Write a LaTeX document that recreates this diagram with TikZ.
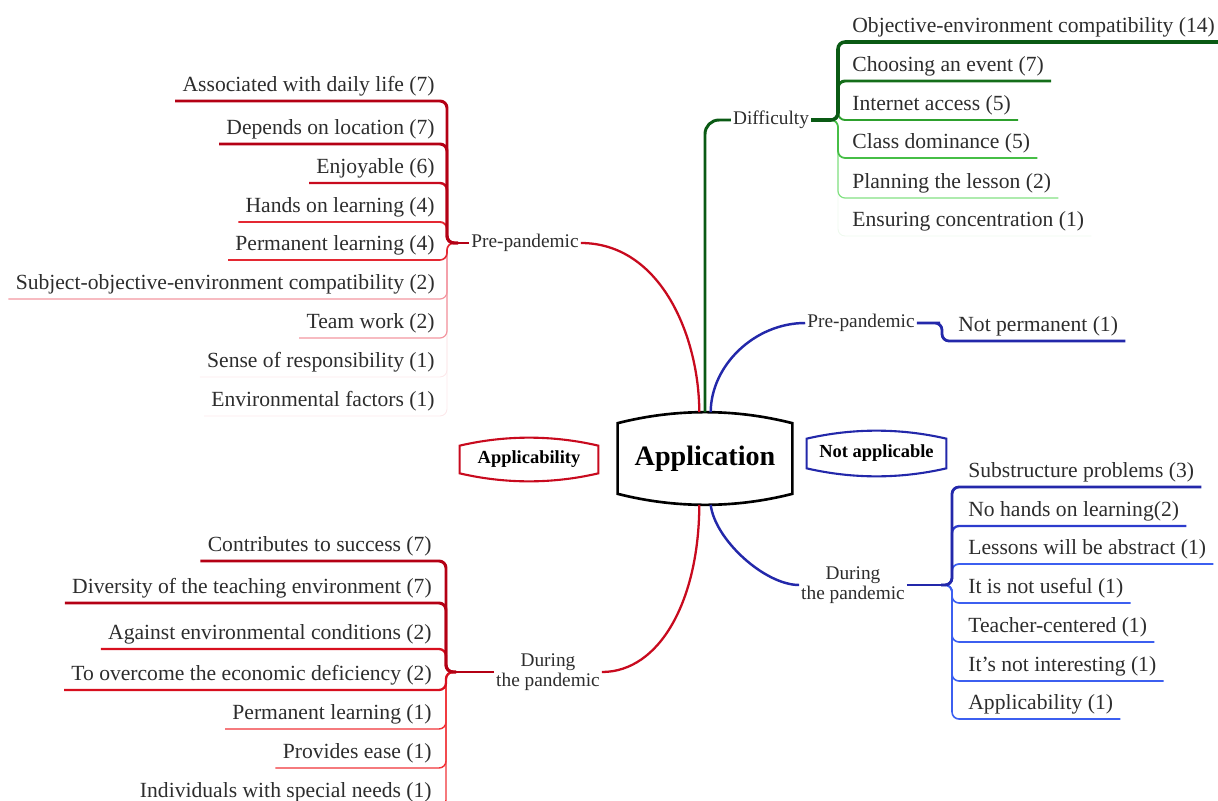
\documentclass[tikz,border=0pt]{standalone}
\usepackage{fontspec}
\setmainfont{Liberation Serif}
\usetikzlibrary{calc}
\def\barrel[#1](#2)(#3){\draw[#1] ($(#2.north west)+(0,#3)$) .. controls ($(#2.north west)!0.33!(#2.north east)+(0,-#3/3)$) and ($(#2.north east)!0.33!(#2.north west)+(0,-#3/3)$) .. ($(#2.north east)+(0,#3)$) -- ($(#2.south east)+(0,-#3)$) .. controls ($(#2.south east)!0.33!(#2.south west)+(0,#3/3)$) and ($(#2.south west)!0.33!(#2.south east)+(0,#3/3)$) .. ($(#2.south west)+(0,-#3)$) -- cycle;}
\definecolor{appred}{RGB}{180,0,20}
\definecolor{appredB}{RGB}{200,10,30}
\definecolor{appredC}{RGB}{228,40,50}
\definecolor{appredD}{RGB}{243,150,160}
\definecolor{appredE}{RGB}{252,232,234}
\definecolor{durred}{RGB}{215,15,30}
\definecolor{durredB}{RGB}{240,50,55}
\definecolor{difgreen}{RGB}{10,90,20}
\definecolor{difgreenB}{RGB}{20,110,25}
\definecolor{difgreenC}{RGB}{45,160,45}
\definecolor{difgreenD}{RGB}{70,190,70}
\definecolor{difgreenE}{RGB}{130,225,130}
\definecolor{difgreenF}{RGB}{238,249,238}
\definecolor{notblue}{RGB}{35,40,170}
\definecolor{notblueB}{RGB}{45,60,205}
\definecolor{notblueC}{RGB}{60,95,240}
\definecolor{textgray}{RGB}{45,45,45}
\tikzset{
	leafL/.style={anchor=south east, font=\fontsize{12.3}{14}\selectfont, text=textgray, inner xsep=0.14cm, inner ysep=0.09cm, text height=0.3cm, text depth=0.1cm},
	leafR/.style={leafL, anchor=south west},
	lbl/.style={font=\fontsize{11}{11.5}\selectfont, text=textgray, inner sep=1pt, align=center},
	fan/.style={rounded corners=4pt},
	boxtxt/.style={font=\fontsize{10.5}{12}\selectfont\bfseries, inner sep=0pt, minimum height=0.86cm}
}

\begin{document}
\begin{tikzpicture}[x=0.02cm, y=-0.02cm]
			%%%%% START %%%%%
			\useasboundingbox (0, 0) rectangle (1218, 801);
			
			\node[font=\fontsize{16}{18}\selectfont\bfseries, inner sep=0pt, minimum width=3.48cm, minimum height=1.84cm] (app) at (705, 458.5) {Application};
			\node[boxtxt, minimum width=2.76cm] (appl) at (529, 459.5) {Applicability};
			\node[boxtxt, minimum width=2.78cm, minimum height=0.9cm] (notapp) at (876.5, 453.5) {Not applicable};
			
			\barrel[line width=1.5pt, color=black](app)(11)
			\barrel[line width=1.2pt, color=appredB](appl)(8)
			\barrel[line width=1.2pt, color=notblue](notapp)(8)
			
			\node[lbl] (preL) at (525, 243) {Pre-pandemic};
			\node[lbl] (durR) at (548, 672) {During\\the pandemic};
			\node[lbl] (diff) at (771, 120) {Difficulty};
			\node[lbl] (prB) at (861, 323) {Pre-pandemic};
			\node[lbl] (durB) at (853, 585) {During\\the pandemic};
			
			\coordinate (hubPL) at (458, 243);
			\coordinate (hubDR) at (456, 672);
			\coordinate (hubD) at (827, 120);
			\coordinate (hubNP) at (933, 323);
			\coordinate (hubDB) at (941, 585);
			
			\draw[line width=1.3pt, color=appredB] (app.97) .. controls (699, 335) and (660, 243) .. (preL.east);
			\draw[line width=1.3pt, color=appredB] (app.263) .. controls (699, 600) and (660, 672) .. (durR.east);
			\draw[line width=1.7pt, color=difgreen, rounded corners=8pt] (app.north) |- (diff.west);
			\draw[line width=1.4pt, color=notblue] (app.83) .. controls (711, 365) and (755, 323) .. (prB.west);
			\draw[line width=1.4pt, color=notblue] (app.277) .. controls (715, 540) and (765, 585) .. (durB.west);
			
			\node[leafL] (a1) at (442, 101) {Associated with daily life (7)};
			\node[leafL] (a2) at (442, 144) {Depends on location (7)};
			\node[leafL] (a3) at (442, 183) {Enjoyable (6)};
			\node[leafL] (a4) at (442, 222) {Hands on learning (4)};
			\node[leafL] (a5) at (442, 260) {Permanent learning (4)};
			\node[leafL] (a6) at (442, 299) {Subject-objective-environment compatibility (2)};
			\node[leafL] (a7) at (442, 338) {Team work (2)};
			\node[leafL] (a8) at (442, 377) {Sense of responsibility (1)};
			\node[leafL] (a9) at (442, 416) {Environmental factors (1)};
			
			\draw[fan, line width=0.5pt, color=appredE] (hubPL) -- ++(-11, 0) |- (a9.south west);
			\draw[fan, line width=0.5pt, color=appredE] (hubPL) -- ++(-11, 0) |- (a8.south west);
			\draw[fan, line width=0.7pt, color=appredD] (hubPL) -- ++(-11, 0) |- (a7.south west);
			\draw[fan, line width=0.7pt, color=appredD] (hubPL) -- ++(-11, 0) |- (a6.south west);
			\draw[fan, line width=0.9pt, color=appredC] (hubPL) -- ++(-11, 0) |- (a5.south west);
			\draw[fan, line width=1.1pt, color=appredC] (hubPL) -- ++(-11, 0) |- (a4.south west);
			\draw[fan, line width=1.4pt, color=appredB] (hubPL) -- ++(-11, 0) |- (a3.south west);
			\draw[fan, line width=1.7pt, color=appred] (hubPL) -- ++(-11, 0) |- (a2.south west);
			\draw[fan, line width=1.7pt, color=appred] (hubPL) -- ++(-11, 0) |- (a1.south west);
			\draw[line width=1.7pt, color=appred] (preL.west) -- (hubPL);
			
			\node[leafL] (b1) at (439, 561) {Contributes to success (7)};
			\node[leafL] (b2) at (439, 603) {Diversity of the teaching environment (7)};
			\node[leafL] (b3) at (439, 649) {Against environmental conditions (2)};
			\node[leafL] (b4) at (439, 690) {To overcome the economic deficiency (2)};
			\node[leafL] (b5) at (439, 729) {Permanent learning (1)};
			\node[leafL] (b6) at (439, 768) {Provides ease (1)};
			\node[leafL] (b7) at (439, 807) {Individuals with special needs (1)};
			
			\draw[fan, line width=0.8pt, color=durredB] (hubDR) -- ++(-10, 0) |- (b7.south west);
			\draw[fan, line width=0.8pt, color=durredB] (hubDR) -- ++(-10, 0) |- (b6.south west);
			\draw[fan, line width=0.8pt, color=durredB] (hubDR) -- ++(-10, 0) |- (b5.south west);
			\draw[fan, line width=1.3pt, color=durred] (hubDR) -- ++(-10, 0) |- (b4.south west);
			\draw[fan, line width=1.3pt, color=durred] (hubDR) -- ++(-10, 0) |- (b3.south west);
			\draw[fan, line width=1.7pt, color=appred] (hubDR) -- ++(-10, 0) |- (b2.south west);
			\draw[fan, line width=1.7pt, color=appred] (hubDR) -- ++(-10, 0) |- (b1.south west);
			\draw[line width=1.7pt, color=appred] (durR.west) -- (hubDR);
			
			\node[leafR] (g1) at (845, 42) {Objective-environment compatibility (14)};
			\node[leafR] (g2) at (845, 81) {Choosing an event (7)};
			\node[leafR] (g3) at (845, 120) {Internet access (5)};
			\node[leafR] (g4) at (845, 158) {Class dominance (5)};
			\node[leafR] (g5) at (845, 198) {Planning the lesson (2)};
			\node[leafR] (g6) at (845, 236) {Ensuring concentration (1)};
			
			\draw[fan, line width=0.5pt, color=difgreenF] (hubD) -- ++(11, 0) |- (g6.south east);
			\draw[fan, line width=0.7pt, color=difgreenE] (hubD) -- ++(11, 0) |- (g5.south east);
			\draw[fan, line width=1.0pt, color=difgreenD] (hubD) -- ++(11, 0) |- (g4.south east);
			\draw[fan, line width=1.1pt, color=difgreenC] (hubD) -- ++(11, 0) |- (g3.south east);
			\draw[fan, line width=1.7pt, color=difgreenB] (hubD) -- ++(11, 0) |- (g2.south east);
			\draw[fan, line width=2pt, color=difgreen] (hubD) -- ++(11, 0) |- (g1.south east);
			\draw[line width=2pt, color=difgreen] (diff.east) -- (hubD);
			
			\node[leafR] (np) at (951, 341) {Not permanent (1)};
			\draw[fan, line width=1.6pt, color=notblue] (prB.east) -- (hubNP) -- ++(9, 0) |- (np.south east);
			
			\node[leafR] (n1) at (961, 487) {Substructure problems (3)};
			\node[leafR] (n2) at (961, 526) {No hands on learning(2)};
			\node[leafR] (n3) at (961, 564) {Lessons will be abstract (1)};
			\node[leafR] (n4) at (961, 603) {It is not useful (1)};
			\node[leafR] (n5) at (961, 642) {Teacher-centered (1)};
			\node[leafR] (n6) at (961, 681) {It's not interesting (1)};
			\node[leafR] (n7) at (961, 719) {Applicability (1)};
			
			\draw[fan, line width=0.9pt, color=notblueC] (hubDB) -- ++(11, 0) |- (n7.south east);
			\draw[fan, line width=0.9pt, color=notblueC] (hubDB) -- ++(11, 0) |- (n6.south east);
			\draw[fan, line width=0.9pt, color=notblueC] (hubDB) -- ++(11, 0) |- (n5.south east);
			\draw[fan, line width=0.9pt, color=notblueC] (hubDB) -- ++(11, 0) |- (n4.south east);
			\draw[fan, line width=1.0pt, color=notblueC] (hubDB) -- ++(11, 0) |- (n3.south east);
			\draw[fan, line width=1.3pt, color=notblueB] (hubDB) -- ++(11, 0) |- (n2.south east);
			\draw[fan, line width=1.6pt, color=notblue] (hubDB) -- ++(11, 0) |- (n1.south east);
			\draw[line width=1.6pt, color=notblue] (durB.east) -- (hubDB);
			
			%%%%% END %%%%%
\end{tikzpicture}
\end{document}
